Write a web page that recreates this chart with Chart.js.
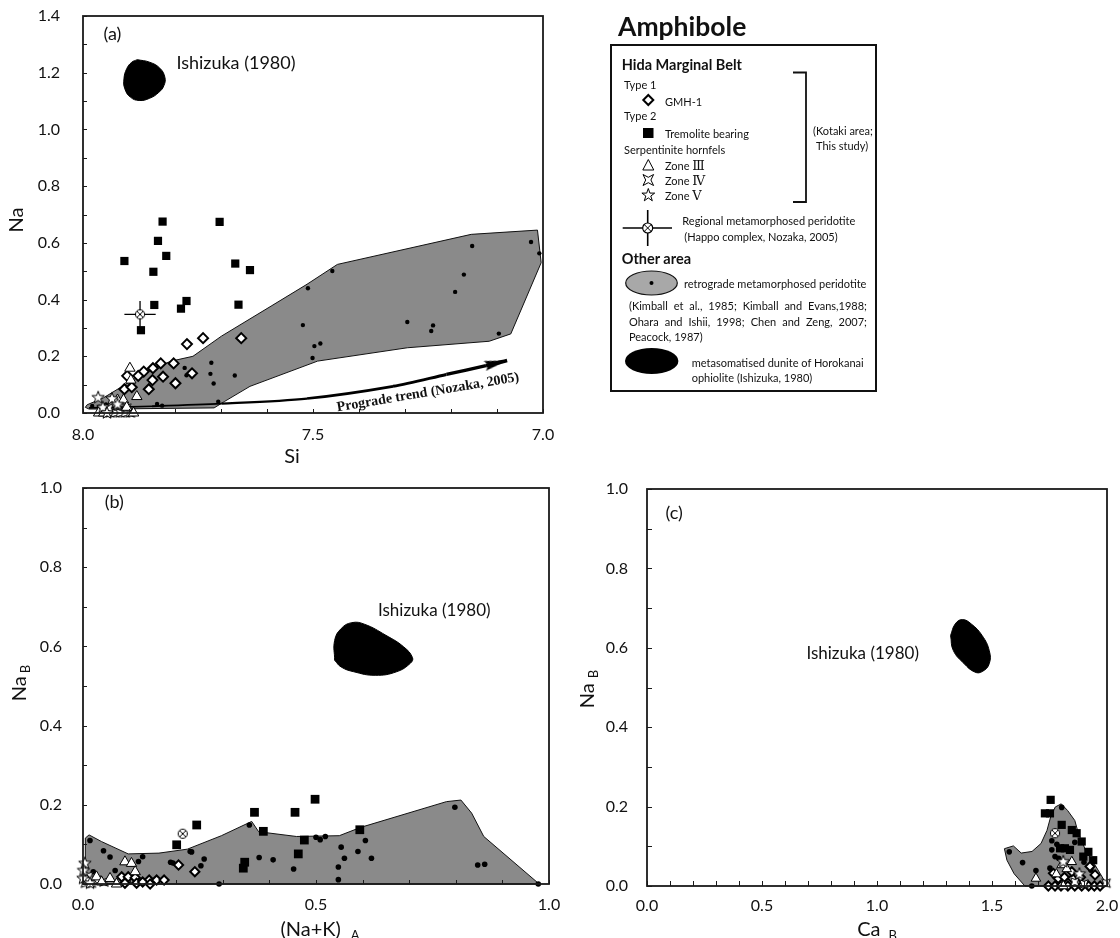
<!DOCTYPE html>
<html>
<head>
<meta charset="utf-8">
<script src="https://cdn.jsdelivr.net/npm/chart.js@4.4.0/dist/chart.umd.min.js"></script>
<style>
  body { margin:0; background:#fff; width:1120px; height:938px; position:relative; overflow:hidden; font-family:Lato, "Noto Sans", sans-serif; color:#111; }
  canvas.panel { position:absolute; }
  .lg { position:absolute; line-height:1; transform:translateY(-50%); white-space:nowrap; font-size:11px; }
  .lg.b { font-weight:bold; font-size:14.5px; }
  .rn { font-family:"DejaVu Serif", "Liberation Serif", serif; font-size:13px; }
  .ref { position:absolute; left:629px; width:238px; font-size:11px; line-height:1; transform:translateY(-50%); white-space:nowrap; }
  .ref.j { text-align:justify; text-align-last:justify; white-space:normal; }
</style>
</head>
<body>
<canvas id="chartA" class="panel" width="560" height="470" style="left:0;top:0"></canvas>
<canvas id="chartB" class="panel" width="560" height="468" style="left:0;top:470px"></canvas>
<canvas id="chartC" class="panel" width="560" height="468" style="left:560px;top:470px"></canvas>

<!-- legend -->
<svg style="position:absolute;left:0;top:0" width="1120" height="450">
  <rect x="611" y="45" width="265" height="346" fill="none" stroke="#111" stroke-width="2"/>
  <polyline points="793,72.5 806,72.5 806,202 793,202" fill="none" stroke="#111" stroke-width="1.8"/>
  <polygon points="648.3,95 653.3,100 648.3,105 643.3,100" fill="#fff" stroke="#000" stroke-width="2"/>
  <rect x="643" y="128" width="10.5" height="10" fill="#000"/>
  <polygon points="648.3,159.5 653.8,170 642.8,170" fill="#fff" stroke="#000" stroke-width="1"/>
  <polygon points="643,174.5 648.3,177.3 653.6,174.5 650.9,180 653.6,185.5 648.3,182.7 643,185.5 645.7,180" fill="#fff" stroke="#000" stroke-width="1"/>
  <polygon points="648.3,188.5 649.9,193.1 654.7,193.1 650.8,196 652.3,200.8 648.3,197.9 644.3,200.8 645.8,196 641.9,193.1 646.7,193.1" fill="#fff" stroke="#000" stroke-width="1"/>
  <line x1="622.7" y1="228" x2="672" y2="228" stroke="#000" stroke-width="1.6"/>
  <line x1="647.7" y1="210" x2="647.7" y2="246" stroke="#000" stroke-width="1.6"/>
  <circle cx="647.7" cy="228" r="5" fill="#fff" stroke="#000" stroke-width="1.2"/>
  <line x1="644.2" y1="224.5" x2="651.2" y2="231.5" stroke="#000" stroke-width="1"/>
  <line x1="651.2" y1="224.5" x2="644.2" y2="231.5" stroke="#000" stroke-width="1"/>
  <ellipse cx="651.5" cy="283" rx="25.8" ry="12" fill="#a8a8a8" stroke="#111" stroke-width="1.2"/>
  <circle cx="651.5" cy="283" r="2" fill="#000"/>
  <ellipse cx="651.7" cy="361" rx="26.7" ry="13" fill="#000"/>
</svg>
<div id="legendText"></div>
<div class="ref j" style="top:305px">(Kimball et al., 1985; Kimball and Evans,1988;</div>
<div class="ref j" style="top:321px">Ohara and Ishii, 1998; Chen and Zeng, 2007;</div>
<div class="ref" style="top:336px">Peacock, 1987)</div>

<script>
// ---------- panel (a): Si vs Na ----------
const aFieldSi = [7.995, 7.991, 7.956, 7.855, 7.808, 7.761, 7.699, 7.591, 7.513, 7.447, 7.156, 7.012, 7.004, 7.070, 7.117, 7.295, 7.490, 7.637, 7.692, 7.715, 7.948, 7.987];
const aFieldNa = [0.020, 0.029, 0.053, 0.153, 0.183, 0.200, 0.271, 0.377, 0.454, 0.524, 0.630, 0.645, 0.530, 0.279, 0.253, 0.230, 0.183, 0.094, 0.041, 0.018, 0.014, 0.014];
const aBlobSi = [7.882, 7.855, 7.833, 7.822, 7.824, 7.835, 7.855, 7.878, 7.897, 7.909, 7.911, 7.905, 7.894];
const aBlobNa = [1.246, 1.237, 1.216, 1.184, 1.155, 1.131, 1.110, 1.102, 1.114, 1.143, 1.178, 1.214, 1.237];
const aDotSi = [7.026, 7.008, 7.154, 7.172, 7.191, 7.295, 7.239, 7.243, 7.096, 7.458, 7.511, 7.522, 7.497, 7.484, 7.501, 7.721, 7.723, 7.716, 7.670, 7.779, 7.775, 7.706, 7.828, 7.839, 7.980, 7.950, 7.965];
const aDotNa = [0.603, 0.563, 0.589, 0.488, 0.427, 0.321, 0.309, 0.289, 0.280, 0.501, 0.440, 0.310, 0.236, 0.245, 0.194, 0.177, 0.138, 0.104, 0.132, 0.159, 0.133, 0.040, 0.026, 0.032, 0.025, 0.030, 0.022];
const aDiamondSi = [7.774, 7.739, 7.656, 7.831, 7.803, 7.848, 7.868, 7.880, 7.904, 7.849, 7.826, 7.763, 7.799, 7.857, 7.910, 7.894];
const aDiamondNa = [0.243, 0.264, 0.264, 0.175, 0.175, 0.158, 0.146, 0.131, 0.131, 0.116, 0.128, 0.140, 0.105, 0.084, 0.084, 0.091];
const aSquareSi = [7.910, 7.827, 7.837, 7.819, 7.847, 7.845, 7.775, 7.787, 7.874, 7.703, 7.669, 7.637, 7.662];
const aSquareNa = [0.536, 0.675, 0.607, 0.554, 0.498, 0.381, 0.395, 0.368, 0.292, 0.674, 0.527, 0.504, 0.382];
const aTriSi = [7.898, 7.896, 7.883, 7.925, 7.912, 7.966, 7.955, 7.905, 7.890];
const aTriNa = [0.158, 0.116, 0.058, 0.046, 0.046, 0.000, 0.000, 0.020, 0.000];
const aZone4Si = [7.941, 7.930, 7.919, 7.908, 7.897, 7.944, 7.905];
const aZone4Na = [0.000, 0.000, 0.000, 0.000, 0.000, 0.017, 0.017];
const aZone5Si = [7.967, 7.937, 7.957, 7.948, 7.925];
const aZone5Na = [0.054, 0.050, 0.019, 0.000, 0.030];
const aHappoSi = [7.876], aHappoNa = [0.348], aHappoErrSi = [0.034], aHappoErrNa = [0.047];
const aTrendSi = [7.987, 7.850, 7.699, 7.513, 7.326, 7.210, 7.124, 7.078];
const aTrendNa = [0.018, 0.024, 0.033, 0.051, 0.094, 0.136, 0.167, 0.185];

// ---------- panel (b): (Na+K)A vs NaB ----------
const bFieldX = [0.005, 0.005, 0.013, 0.040, 0.097, 0.163, 0.224, 0.297, 0.362, 0.377, 0.458, 0.550, 0.596, 0.780, 0.811, 0.834, 0.860, 0.979];
const bFieldY = [0.000, 0.116, 0.124, 0.107, 0.076, 0.078, 0.088, 0.122, 0.158, 0.132, 0.120, 0.122, 0.143, 0.208, 0.212, 0.179, 0.120, 0.000];
const bBlobX = [0.540, 0.540, 0.554, 0.577, 0.604, 0.650, 0.688, 0.707, 0.703, 0.673, 0.627, 0.581, 0.554];
const bBlobY = [0.565, 0.615, 0.645, 0.660, 0.656, 0.628, 0.599, 0.572, 0.558, 0.536, 0.527, 0.536, 0.548];
const bDotX = [0.015, 0.044, 0.058, 0.069, 0.128, 0.119, 0.188, 0.193, 0.230, 0.233, 0.253, 0.260, 0.292, 0.357, 0.378, 0.408, 0.452, 0.500, 0.509, 0.520, 0.554, 0.561, 0.548, 0.548, 0.590, 0.606, 0.619, 0.798, 0.847, 0.862, 0.977, 0.022, 0.030];
const bDotY = [0.110, 0.084, 0.068, 0.034, 0.069, 0.057, 0.055, 0.053, 0.082, 0.081, 0.046, 0.063, 0.000, 0.149, 0.067, 0.061, 0.038, 0.118, 0.112, 0.120, 0.093, 0.065, 0.043, 0.011, 0.082, 0.110, 0.065, 0.194, 0.048, 0.050, 0.000, 0.031, 0.015];
const bSquareX = [0.201, 0.244, 0.368, 0.387, 0.347, 0.344, 0.455, 0.498, 0.475, 0.462, 0.594];
const bSquareY = [0.099, 0.149, 0.181, 0.133, 0.055, 0.040, 0.181, 0.214, 0.111, 0.076, 0.137];
const bDiamondX = [0.083, 0.097, 0.112, 0.142, 0.158, 0.174, 0.115, 0.144, 0.090, 0.205, 0.240, 0.128];
const bDiamondY = [0.018, 0.018, 0.016, 0.010, 0.010, 0.010, 0.002, 0.000, 0.002, 0.048, 0.031, 0.005];
const bTriX = [0.090, 0.104, 0.112, 0.058, 0.029, 0.072, 0.008, 0.040];
const bTriY = [0.056, 0.052, 0.031, 0.014, 0.018, 0.000, 0.010, 0.005];
const bZone4X = [0.005, 0.018, 0.030, 0.045, 0.012];
const bZone4Y = [0.002, 0.002, 0.010, 0.005, 0.020];
const bZone5X = [0.004, 0.001, 0.000, 0.015];
const bZone5Y = [0.052, 0.034, 0.014, 0.002];
const bHappoX = [0.214], bHappoY = [0.127];

// ---------- panel (c): CaB vs NaB ----------
const cFieldX = [1.554, 1.593, 1.627, 1.674, 1.713, 1.739, 1.755, 1.775, 1.801, 1.829, 1.860, 1.876, 1.907, 1.953, 1.984, 1.992, 1.643, 1.596, 1.565];
const cFieldY = [0.094, 0.101, 0.083, 0.087, 0.107, 0.140, 0.174, 0.199, 0.207, 0.190, 0.165, 0.132, 0.090, 0.048, 0.018, 0.000, 0.000, 0.031, 0.065];
const cBlobX = [1.320, 1.340, 1.371, 1.410, 1.457, 1.488, 1.488, 1.457, 1.425, 1.379, 1.332];
const cBlobY = [0.631, 0.660, 0.671, 0.660, 0.631, 0.593, 0.560, 0.540, 0.539, 0.560, 0.593];
const cDotX = [1.803, 1.575, 1.633, 1.691, 1.760, 1.760, 1.774, 1.752, 1.673, 1.782, 1.860, 1.900, 1.930, 1.790];
const cDotY = [0.198, 0.086, 0.059, 0.039, 0.114, 0.091, 0.074, 0.045, 0.000, 0.105, 0.110, 0.060, 0.040, 0.070];
const cSquareX = [1.755, 1.730, 1.752, 1.803, 1.847, 1.868, 1.890, 1.919, 1.940, 1.796, 1.817, 1.839, 1.897];
const cSquareY = [0.217, 0.183, 0.183, 0.154, 0.141, 0.133, 0.112, 0.086, 0.065, 0.095, 0.095, 0.091, 0.074];
const cDiamondX = [1.745, 1.774, 1.800, 1.830, 1.860, 1.890, 1.920, 1.945, 1.970, 1.788, 1.815, 1.850, 1.885, 1.767, 1.847, 1.926, 1.948];
const cDiamondY = [0.000, 0.000, 0.000, 0.000, 0.000, 0.000, 0.000, 0.000, 0.000, 0.019, 0.022, 0.019, 0.022, 0.032, 0.036, 0.049, 0.028];
const cTriX = [1.691, 1.803, 1.825, 1.847, 1.810, 1.780];
const cTriY = [0.019, 0.053, 0.043, 0.061, 0.000, 0.030];
const cZone4X = [1.996, 1.900, 1.860], cZone4Y = [0.007, 0.005, 0.010];
const cZone5X = [1.810, 1.880], cZone5Y = [0.061, 0.030];
const cHappoX = [1.774], cHappoY = [0.133];

// legend texts
const legendItems = [
  ['Amphibole', 618, 26, 'font:bold 26.5px Lato'],
  ['Hida Marginal Belt', 621.7, 65, 'b'],
  ['Type 1', 624, 84, ''],
  ['GMH-1', 665, 101, ''],
  ['Type 2', 624, 115, ''],
  ['Tremolite bearing', 665, 133, ''],
  ['Serpentinite hornfels', 624, 149, ''],
  ['Zone <span class="rn">Ⅲ</span>', 665, 165, ''],
  ['Zone <span class="rn">Ⅳ</span>', 665, 180, ''],
  ['Zone <span class="rn">Ⅴ</span>', 665, 195, ''],
  ['(Kotaki area;', 813, 130, ''],
  ['This study)', 816, 145, ''],
  ['Regional metamorphosed peridotite', 682.3, 220, ''],
  ['(Happo complex, Nozaka, 2005)', 684.3, 236, ''],
  ['Other area', 621.7, 259, 'b'],
  ['retrograde metamorphosed peridotite', 684, 283, ''],
  ['metasomatised dunite of Horokanai', 691.7, 362, ''],
  ['ophiolite (Ishizuka, 1980)', 691.7, 377, '']
];
const lt = document.getElementById('legendText');
legendItems.forEach(function(it){
  const d = document.createElement('div');
  d.className = 'lg' + (it[3] === 'b' ? ' b' : '');
  d.innerHTML = it[0];
  d.style.left = it[1] + 'px';
  d.style.top = it[2] + 'px';
  if (it[3] && it[3] !== 'b') d.style.cssText += ';' + it[3];
  lt.appendChild(d);
});

// ---------- helpers ----------
function pts(xs, ys) { return xs.map(function(v, i){ return { x: v, y: ys[i] }; }); }
function closed(xs, ys) { const p = pts(xs, ys); p.push({ x: xs[0], y: ys[0] }); return p; }

function sym(size, draw) {
  const c = document.createElement('canvas');
  c.width = size; c.height = size;
  const g = c.getContext('2d');
  g.fillStyle = '#fff'; g.strokeStyle = '#000'; g.lineWidth = 1;
  draw(g, size / 2);
  return c;
}
const star5 = sym(16, function(g, m){
  g.beginPath();
  for (let i = 0; i < 10; i++) {
    const r = i % 2 ? 2.7 : 6.5, a = -Math.PI / 2 + i * Math.PI / 5;
    g.lineTo(m + r * Math.cos(a), m + r * Math.sin(a));
  }
  g.closePath(); g.fill(); g.stroke();
});
const star4 = sym(14, function(g, m){
  g.beginPath();
  for (let i = 0; i < 8; i++) {
    const r = i % 2 ? 2.6 : 6, a = -Math.PI * 3 / 4 + i * Math.PI / 4;
    g.lineTo(m + r * Math.cos(a), m + r * Math.sin(a));
  }
  g.closePath(); g.fill(); g.stroke();
});
const circX = sym(12, function(g, m){
  g.beginPath(); g.arc(m, m, 4.6, 0, Math.PI * 2); g.fill(); g.stroke();
  g.beginPath();
  g.moveTo(m - 3, m - 3); g.lineTo(m + 3, m + 3);
  g.moveTo(m + 3, m - 3); g.lineTo(m - 3, m + 3);
  g.stroke();
});
const arrowHead = (function(){
  const c = document.createElement('canvas');
  c.width = 52; c.height = 12;
  const g = c.getContext('2d');
  g.fillStyle = '#000';
  g.beginPath(); g.moveTo(26, 6); g.lineTo(3, 1); g.lineTo(7, 6); g.lineTo(3, 11); g.closePath(); g.fill();
  return c;
})();

function field(data) {
  return { type: 'line', data: data, fill: 'shape', backgroundColor: '#8a8a8a', borderColor: '#111', borderWidth: 1, pointRadius: 0, tension: 0, order: 30, clip: false };
}
function blob(data) {
  return { type: 'line', data: data, fill: 'shape', backgroundColor: '#000', borderColor: '#000', borderWidth: 1, pointRadius: 0, tension: 0.45, order: 29, clip: false };
}
function marks(data, style, r, bw, bg, order) {
  return { type: 'scatter', data: data, pointStyle: style, pointRadius: r, pointBorderWidth: bw, pointBackgroundColor: bg, pointBorderColor: '#000', order: order, clip: false };
}

// frame, inner ticks, notes and axis titles
const framePlugin = {
  id: 'frame',
  afterDraw: function(chart, args, o) {
    const ctx = chart.ctx, a = chart.chartArea, sx = chart.scales.x, sy = chart.scales.y;
    ctx.save();
    ctx.strokeStyle = '#1a1a1a';
    ctx.lineWidth = 1;
    for (let v = sy.min; v <= sy.max + 1e-9; v += o.yMinor) {
      const p = Math.round(sy.getPixelForValue(v)) + 0.5;
      ctx.beginPath(); ctx.moveTo(a.left, p); ctx.lineTo(a.left + o.tick, p); ctx.stroke();
    }
    for (let v = sx.min; v <= sx.max + 1e-9; v += o.xMinor) {
      const p = Math.round(sx.getPixelForValue(v)) + 0.5;
      ctx.beginPath(); ctx.moveTo(p, a.bottom); ctx.lineTo(p, a.bottom - o.tick); ctx.stroke();
    }
    ctx.lineWidth = 1.8;
    ctx.strokeRect(a.left, a.top, a.right - a.left, a.bottom - a.top);
    ctx.fillStyle = '#111';
    ctx.textBaseline = 'middle';
    (o.notes || []).forEach(function(n){
      ctx.save();
      ctx.font = n.font;
      ctx.textAlign = n.align || 'left';
      ctx.translate(sx.getPixelForValue(n.x), sy.getPixelForValue(n.y));
      if (n.rot) ctx.rotate(n.rot * Math.PI / 180);
      ctx.fillText(n.t, 0, 0);
      ctx.restore();
    });
    // axis titles (with subscripts)
    function title(t, vertical) {
      ctx.save();
      ctx.translate(t.cx, t.cy);
      if (vertical) ctx.rotate(-Math.PI / 2);
      ctx.font = '20px Lato';
      const w1 = ctx.measureText(t.main).width;
      ctx.font = '13px Lato';
      const w2 = t.sub ? ctx.measureText(t.sub).width + t.gap : 0;
      const x0 = -(w1 + w2) / 2;
      ctx.textAlign = 'left';
      ctx.font = '20px Lato';
      ctx.fillText(t.main, x0, 0);
      if (t.sub) { ctx.font = '13px Lato'; ctx.fillText(t.sub, x0 + w1 + t.gap, 6); }
      ctx.restore();
    }
    title(o.xTitle, false);
    title(o.yTitle, true);
    ctx.restore();
  }
};

const tickFont = { family: 'Lato', size: 16 };
function axis(min, max, step, reverse, fit, isX, pad) {
  return {
    type: 'linear', min: min, max: max, reverse: !!reverse,
    grid: { display: false, drawTicks: false },
    border: { display: false },
    ticks: { stepSize: step, autoSkip: false, maxRotation: 0, padding: pad, color: '#111', font: tickFont,
      callback: function(v){ return Number(v).toFixed(1); } },
    afterFit: function(s){
      if (isX) s.height = fit; else s.width = fit;
      // no extra room for label overhang: plot area is set by layout padding only
      s.paddingLeft = 0; s.paddingRight = 0; s.paddingTop = 0; s.paddingBottom = 0;
    }
  };
}
function makeChart(id, datasets, scales, padding, frame) {
  return new Chart(document.getElementById(id), {
    type: 'scatter',
    data: { datasets: datasets },
    options: {
      responsive: false, animation: false, events: [],
      layout: { padding: padding },
      plugins: { legend: { display: false }, tooltip: { enabled: false }, frame: frame },
      scales: scales
    },
    plugins: [framePlugin]
  });
}

// ---------- chart (a) ----------
const happoBars = [
  { x: aHappoSi[0] - aHappoErrSi[0], y: aHappoNa[0] }, { x: aHappoSi[0] + aHappoErrSi[0], y: aHappoNa[0] },
  { x: aHappoSi[0], y: null },
  { x: aHappoSi[0], y: aHappoNa[0] - aHappoErrNa[0] }, { x: aHappoSi[0], y: aHappoNa[0] + aHappoErrNa[0] }
];
const trendPts = pts(aTrendSi, aTrendNa);
makeChart('chartA', [
  field(closed(aFieldSi, aFieldNa)),
  blob(closed(aBlobSi, aBlobNa)),
  { type: 'line', data: trendPts, borderColor: '#000', fill: false, tension: 0.3, order: 25, clip: false,
    segment: { borderWidth: function(c){ return 1.6 + c.p0DataIndex * 0.35; } },
    pointRadius: trendPts.map(function(p, i){ return i === trendPts.length - 1 ? 1 : 0; }),
    pointStyle: arrowHead, rotation: -13.5 },
  marks(pts(aDotSi, aDotNa), 'circle', 2.2, 0, '#000', 20),
  { type: 'line', data: happoBars, borderColor: '#000', borderWidth: 1.3, pointRadius: 0, spanGaps: false, order: 6, clip: false },
  marks(pts(aHappoSi, aHappoNa), circX, 5, 1, '#fff', 5),
  marks(pts(aSquareSi, aSquareNa), 'rect', 5.8, 0, '#000', 10),
  marks(pts(aDiamondSi, aDiamondNa), 'rectRot', 5, 2, '#fff', 9),
  marks(pts(aZone4Si, aZone4Na), star4, 5, 1, '#fff', 8),
  marks(pts(aTriSi, aTriNa), 'triangle', 6, 1, '#fff', 7),
  marks(pts(aZone5Si, aZone5Na), star5, 6, 1, '#fff', 6)
], {
  x: axis(7.0, 8.0, 0.5, true, 57, true, 12),
  y: axis(0, 1.4, 0.2, false, 83, false, 23)
}, { left: 0, top: 16, right: 17, bottom: 0 }, {
  xMinor: 0.1, yMinor: 0.1, tick: 4,
  notes: [
    { t: '(a)', x: 7.936, y: 1.337, font: '18px Lato', align: 'center' },
    { t: 'Ishizuka (1980)', x: 7.797, y: 1.235, font: '18px Lato' },
    { t: 'Prograde trend (Nozaka, 2005)', x: 7.25, y: 0.072, font: 'bold 14px "Liberation Serif"', align: 'center', rot: -9.5 }
  ],
  xTitle: { main: 'Si', sub: '', gap: 0, cx: 292, cy: 457 },
  yTitle: { main: 'Na', sub: '', gap: 0, cx: 17, cy: 220 }
});

// ---------- chart (b) ----------
makeChart('chartB', [
  field(closed(bFieldX, bFieldY)),
  blob(closed(bBlobX, bBlobY)),
  marks(pts(bDotX, bDotY), 'circle', 2.8, 0, '#000', 20),
  marks(pts(bHappoX, bHappoY), circX, 5, 1, '#fff', 5),
  marks(pts(bSquareX, bSquareY), 'rect', 6.2, 0, '#000', 10),
  marks(pts(bDiamondX, bDiamondY), 'rectRot', 4.6, 2, '#fff', 9),
  marks(pts(bZone4X, bZone4Y), star4, 5, 1, '#fff', 8),
  marks(pts(bTriX, bTriY), 'triangle', 6, 1, '#fff', 7),
  marks(pts(bZone5X, bZone5Y), star5, 6, 1, '#fff', 6)
], {
  x: axis(0, 1.0, 0.5, false, 54, true, 11),
  y: axis(0, 1.0, 0.2, false, 83, false, 21)
}, { left: 0, top: 18, right: 11, bottom: 0 }, {
  xMinor: 0.1, yMinor: 0.1, tick: 4,
  notes: [
    { t: '(b)', x: 0.067, y: 0.964, font: '18px Lato', align: 'center' },
    { t: 'Ishizuka (1980)', x: 0.633, y: 0.691, font: '17px Lato' }
  ],
  xTitle: { main: '(Na+K)', sub: 'A', gap: 10, cx: 320, cy: 460 },
  yTitle: { main: 'Na', sub: 'B', gap: 3, cx: 20, cy: 213 }
});

// ---------- chart (c) ----------
makeChart('chartC', [
  field(closed(cFieldX, cFieldY)),
  blob(closed(cBlobX, cBlobY)),
  marks(pts(cDotX, cDotY), 'circle', 2.8, 0, '#000', 20),
  marks(pts(cHappoX, cHappoY), circX, 5, 1, '#fff', 5),
  marks(pts(cSquareX, cSquareY), 'rect', 5.8, 0, '#000', 10),
  marks(pts(cDiamondX, cDiamondY), 'rectRot', 4.5, 2, '#fff', 9),
  marks(pts(cZone4X, cZone4Y), star4, 5, 1, '#fff', 8),
  marks(pts(cTriX, cTriY), 'triangle', 5.5, 1, '#fff', 7),
  marks(pts(cZone5X, cZone5Y), star5, 6, 1, '#fff', 6)
], {
  x: axis(0, 2.0, 0.5, false, 52, true, 10),
  y: axis(0, 1.0, 0.2, false, 87, false, 19)
}, { left: 0, top: 19, right: 13, bottom: 0 }, {
  xMinor: 0.1, yMinor: 0.1, tick: 5,
  notes: [
    { t: '(c)', x: 0.118, y: 0.939, font: '18px Lato', align: 'center' },
    { t: 'Ishizuka (1980)', x: 0.693, y: 0.585, font: '17px Lato' }
  ],
  xTitle: { main: 'Ca', sub: 'B', gap: 8, cx: 317, cy: 460 },
  yTitle: { main: 'Na', sub: 'B', gap: 5, cx: 28, cy: 219 }
});
</script>
</body>
</html>
